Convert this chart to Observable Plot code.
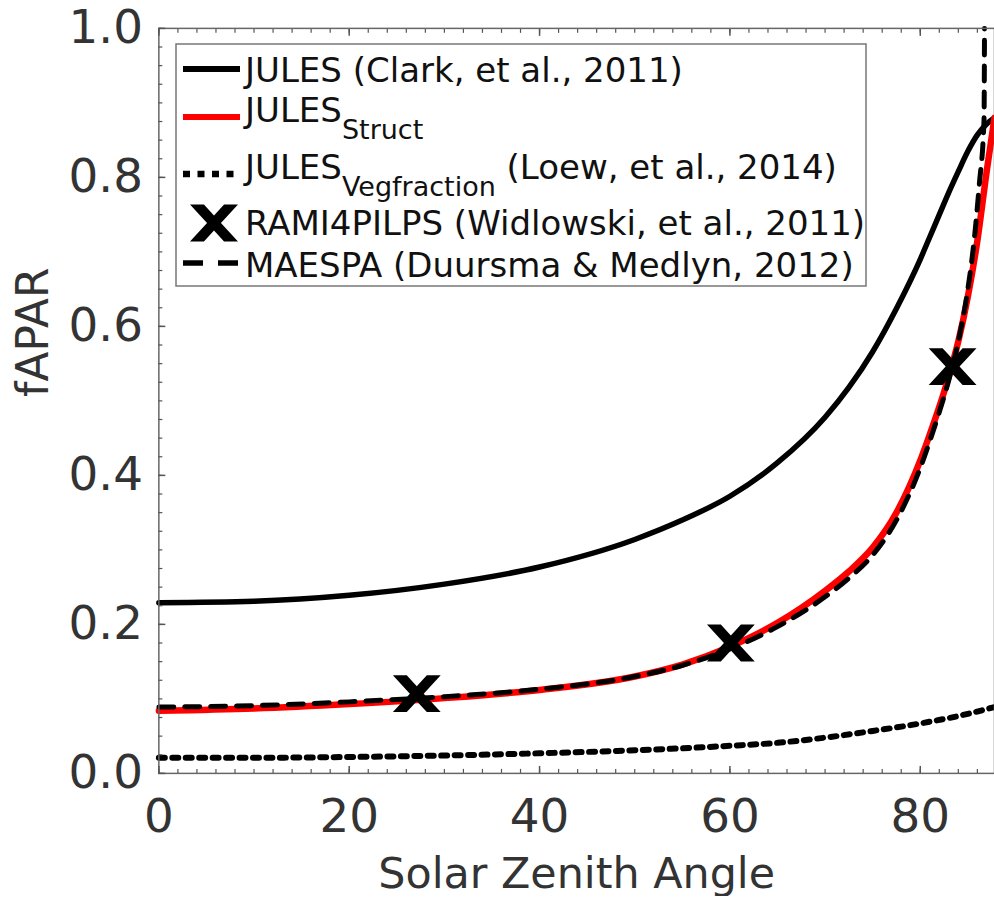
<!DOCTYPE html>
<html><head><meta charset="utf-8">
<script src="https://cdn.jsdelivr.net/npm/d3@7"></script>
<script src="https://cdn.jsdelivr.net/npm/@observablehq/plot@0.6"></script>
<style>
body{margin:0;background:#fff;}
#wrap{position:relative;width:994px;height:900px;overflow:hidden;font-family:"DejaVu Sans",sans-serif;}
#legend{position:absolute;left:0;top:0;pointer-events:none;}
</style></head><body><div id="wrap"></div>
<script>
// ---- data ----
const angle       = [0, 10, 20, 30, 40, 50, 55, 60, 65, 70, 72.5, 75, 77.5, 80, 81, 82, 83, 84, 85, 86, 87, 87.8];
const julesClark  = [0.229, 0.231, 0.239, 0.254, 0.277, 0.314, 0.340, 0.372, 0.417, 0.478, 0.518, 0.566, 0.624, 0.690, 0.720, 0.750, 0.780, 0.808, 0.835, 0.857, 0.872, 0.880];
const julesStruct = [0.084, 0.087, 0.093, 0.101, 0.112, 0.130, 0.146, 0.170, 0.202, 0.245, 0.271, 0.303, 0.350, 0.420, 0.455, 0.492, 0.533, 0.580, 0.640, 0.715, 0.810, 0.880];
const maespaAngle = [0, 10, 20, 30, 40, 50, 55, 60, 65, 70, 72.5, 75, 77.5, 80, 81, 82, 83, 84, 85, 85.7, 86.2, 86.7, 86.75];
const maespa      = [0.089, 0.091, 0.096, 0.103, 0.113, 0.130, 0.145, 0.167, 0.197, 0.237, 0.262, 0.293, 0.340, 0.410, 0.446, 0.485, 0.528, 0.580, 0.650, 0.720, 0.790, 0.877, 1.000];
const vegAngle    = [0, 10, 20, 30, 40, 50, 60, 65, 70, 75, 80, 84, 87.8];
const julesVeg    = [0.021, 0.021, 0.022, 0.024, 0.027, 0.031, 0.037, 0.041, 0.048, 0.057, 0.067, 0.077, 0.089];
const ramiAngle   = [27.1, 60.1, 83.4];
const ramiFapar   = [0.107, 0.175, 0.546];

const xMajorTicks = [0, 20, 40, 60, 80];
const yMajorTicks = [0, 0.2, 0.4, 0.6, 0.8, 1.0];
const xMinorTicks = d3.range(0, 88, 2);
const yMinorTicks = d3.range(0, 1.0001, 0.025);

const xLabel = "Solar Zenith Angle";
const yLabel = "fAPAR";
const legendMain = ["JULES", "JULES", "JULES", "RAMI4PILPS (Widlowski, et al., 2011)", "MAESPA (Duursma & Medlyn, 2012)"];
const legendSub  = [null, "Struct", "Vegfraction", null, null];
const legendTail = [" (Clark, et al., 2011)", "", " (Loew, et al., 2014)", "", ""];

// ---- tables ----
const clarkData  = angle.map((a, i) => ({a, f: julesClark[i]}));
const structData = angle.map((a, i) => ({a, f: julesStruct[i]}));
const maespaData = maespaAngle.map((a, i) => ({a, f: maespa[i]}));
const vegData    = vegAngle.map((a, i) => ({a, f: julesVeg[i]}));
const ramiData   = ramiAngle.map((a, i) => ({a, f: ramiFapar[i]}));

// bold X marker
const boldX = {
  draw(ctx, size) {
    const r = Math.sqrt(size / Math.PI);
    const w = r, h = r * 0.77, a = r * 0.29;
    const ty = h * a / (w - a);
    ctx.moveTo(-w, -h); ctx.lineTo(-w + 2 * a, -h); ctx.lineTo(0, -ty); ctx.lineTo(w - 2 * a, -h); ctx.lineTo(w, -h);
    ctx.lineTo(a, 0); ctx.lineTo(w, h); ctx.lineTo(w - 2 * a, h); ctx.lineTo(0, ty); ctx.lineTo(-w + 2 * a, h);
    ctx.lineTo(-w, h); ctx.lineTo(-a, 0); ctx.closePath();
  }
};

const tickStroke = "#555";
const lw = 5.5;

const chart = Plot.plot({
  width: 998, height: 900,
  marginLeft: 159, marginRight: 0, marginTop: 28, marginBottom: 124,
  style: {fontFamily: "DejaVu Sans", fontSize: "47px", color: "#333", background: "white"},
  x: {domain: [0, 87.8]},
  y: {domain: [0, 1]},
  marks: [
    Plot.line(clarkData,  {x: "a", y: "f", stroke: "black", strokeWidth: lw, curve: "monotone-x"}),
    Plot.line(vegData,    {x: "a", y: "f", stroke: "black", strokeWidth: 6, strokeDasharray: "6,7.5", curve: "monotone-x"}),
    Plot.line(structData, {x: "a", y: "f", stroke: "#ff0000", strokeWidth: 6.5, curve: "monotone-x"}),
    Plot.line(maespaData, {x: "a", y: "f", stroke: "black", strokeWidth: 5, strokeDasharray: "15,11", curve: "monotone-x"}),
    Plot.dot(ramiData,    {x: "a", y: "f", symbol: boldX, r: 24, fill: "black", stroke: "none"}),
    Plot.frame({stroke: "#666", strokeWidth: 1.5}),
    // inward tick marks
    Plot.axisX({anchor: "bottom", ticks: xMajorTicks, tickSize: 7, dy: -7, tickFormat: () => "", stroke: tickStroke, strokeWidth: 1.5, label: null}),
    Plot.axisX({anchor: "bottom", ticks: xMinorTicks, tickSize: 4, dy: -4, tickFormat: () => "", stroke: tickStroke, strokeWidth: 1.2, label: null}),
    Plot.axisX({anchor: "top", ticks: xMajorTicks, tickSize: 7, dy: 7, tickFormat: () => "", stroke: tickStroke, strokeWidth: 1.5, label: null}),
    Plot.axisX({anchor: "top", ticks: xMinorTicks, tickSize: 4, dy: 4, tickFormat: () => "", stroke: tickStroke, strokeWidth: 1.2, label: null}),
    Plot.axisY({anchor: "left", ticks: yMajorTicks, tickSize: 7, dx: 7, tickFormat: () => "", stroke: tickStroke, strokeWidth: 1.5, label: null}),
    Plot.axisY({anchor: "left", ticks: yMinorTicks, tickSize: 4, dx: 4, tickFormat: () => "", stroke: tickStroke, strokeWidth: 1.2, label: null}),
    // tick labels
    Plot.axisX({anchor: "bottom", ticks: xMajorTicks, tickSize: 0, tickPadding: 25, tickFormat: d => String(d), fill: "#333", label: null}),
    Plot.axisY({anchor: "left", ticks: yMajorTicks, tickSize: 0, tickPadding: 16, tickFormat: d3.format(".1f"), fill: "#333", label: null}),
    // axis titles
    Plot.text([xLabel], {text: d => d, frameAnchor: "bottom", dy: 101, fill: "#333", fontSize: 43, lineAnchor: "middle"}),
    Plot.text([yLabel], {text: d => d, frameAnchor: "left", dx: -125, dy: -4, rotate: -90, fill: "#333", fontSize: 44, lineAnchor: "middle"})
  ]
});

const wrap = document.getElementById("wrap");
wrap.appendChild(chart);

// ---- legend overlay ----
const svg = d3.select(wrap).append("svg").attr("id", "legend").attr("width", 994).attr("height", 900);
svg.append("rect").attr("x", 176).attr("y", 44).attr("width", 690).attr("height", 242)
  .attr("fill", "white").attr("stroke", "#777").attr("stroke-width", 1.5);

const rowLine = [69, 117, 174, 223, 263];
const rowBase = [82, 122, 179, 235, 277];
const samples = [
  {stroke: "black", dash: null, w: 6},
  {stroke: "#ff0000", dash: null, w: 6},
  {stroke: "black", dash: "7,7.5", w: 6.5},
  null,
  {stroke: "black", dash: "20,15", w: 5.5}
];
legendMain.forEach((label, i) => {
  const s = samples[i];
  if (s) {
    svg.append("line").attr("x1", 183).attr("x2", 240).attr("y1", rowLine[i]).attr("y2", rowLine[i])
      .attr("stroke", s.stroke).attr("stroke-width", s.w).attr("stroke-dasharray", s.dash);
  } else {
    const p = d3.path();
    boldX.draw(p, 24 * 24 * Math.PI);
    svg.append("path").attr("d", p.toString()).attr("fill", "black")
      .attr("transform", `translate(214,${rowLine[i]})`);
  }
  const t = svg.append("text").attr("x", 245).attr("y", rowBase[i])
    .attr("font-family", "DejaVu Sans").attr("font-size", 34).attr("fill", "#111");
  t.append("tspan").text(label);
  if (legendSub[i]) {
    t.append("tspan").attr("dy", 17).attr("font-size", 27).text(legendSub[i]);
    if (legendTail[i]) t.append("tspan").attr("dy", -17).attr("font-size", 34).text("\u00a0" + legendTail[i].trim());
  } else if (legendTail[i]) {
    t.append("tspan").text(legendTail[i]);
  }
});
</script></body></html>
